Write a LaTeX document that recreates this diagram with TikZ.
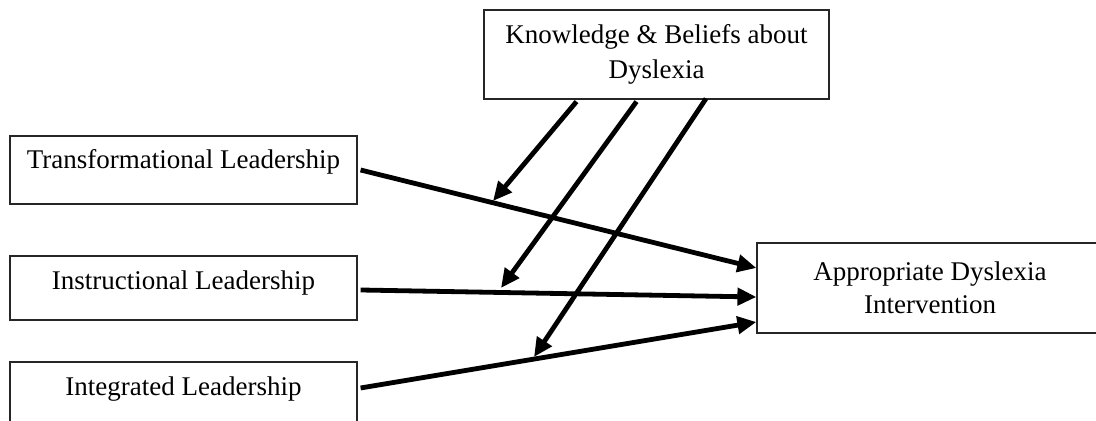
\documentclass[tikz,border=0pt]{standalone}
\usepackage{fontspec}
\setmainfont{Liberation Serif}
\usetikzlibrary{arrows.meta, calc}
\tikzstyle{leader} = [rectangle, minimum width=173.5pt, minimum height=34pt, text centered, draw=black!85, line width=0.6pt, fill=white, font=\fontsize{13.5}{17}\selectfont]
\tikzstyle{moderator} = [rectangle, minimum width=172.5pt, minimum height=44.5pt, align=center, draw=black!85, line width=0.6pt, fill=white, font=\fontsize{13.5}{17.5}\selectfont]
\tikzstyle{outcome} = [rectangle, minimum width=173pt, minimum height=45pt, align=center, draw=black!85, line width=0.6pt, fill=white, font=\fontsize{13.5}{16.5}\selectfont]
\tikzstyle{arrow} = [line width=2.4pt, ->, >={Triangle[length=9.5pt, width=8.5pt]}]

\begin{document}
\begin{tikzpicture}[x=0.5pt, y=-0.5pt]
  \useasboundingbox (0,0) rectangle (1096,421);
  \clip (0,0) rectangle (1096,421);
  \node (knowl) [moderator] at (656.5,54.5) {Knowledge \& Beliefs about\\Dyslexia};
  \node (transf) [leader, text height=8pt, text depth=9.7pt] at (183.5,170) {Transformational Leadership};
  \node (instr) [leader, minimum height=32pt, text height=8pt, text depth=6pt] at (183.5,288) {Instructional Leadership};
  \node (integ) [leader, text height=7pt, text depth=7pt] at (183.5,396) {Integrated Leadership};
  \node (approp) [outcome] at (930,288) {Appropriate Dyslexia\\Intervention};
  % points where the moderating arrows meet the paths
  \coordinate (onT) at (493,201);
  \coordinate (onI) at (501,288);
  \coordinate (onG) at (534,357);
  \draw [arrow] ([xshift=1.5pt]transf.east) -- ([yshift=10pt]approp.west);
  \draw [arrow] ([xshift=1.5pt, yshift=-1pt]instr.east) -- ([yshift=-4.5pt]approp.west);
  \draw [arrow] ([xshift=1.5pt, yshift=4pt]integ.east) -- ([yshift=-17pt]approp.west);
  \draw [arrow] ([xshift=-40pt, yshift=-1pt]knowl.south) -- (onT);
  \draw [arrow] ([xshift=-10pt, yshift=-1pt]knowl.south) -- (onI);
  \draw [arrow] ([xshift=24.75pt, yshift=0.5pt]knowl.south) -- (onG);
\end{tikzpicture}
\end{document}
